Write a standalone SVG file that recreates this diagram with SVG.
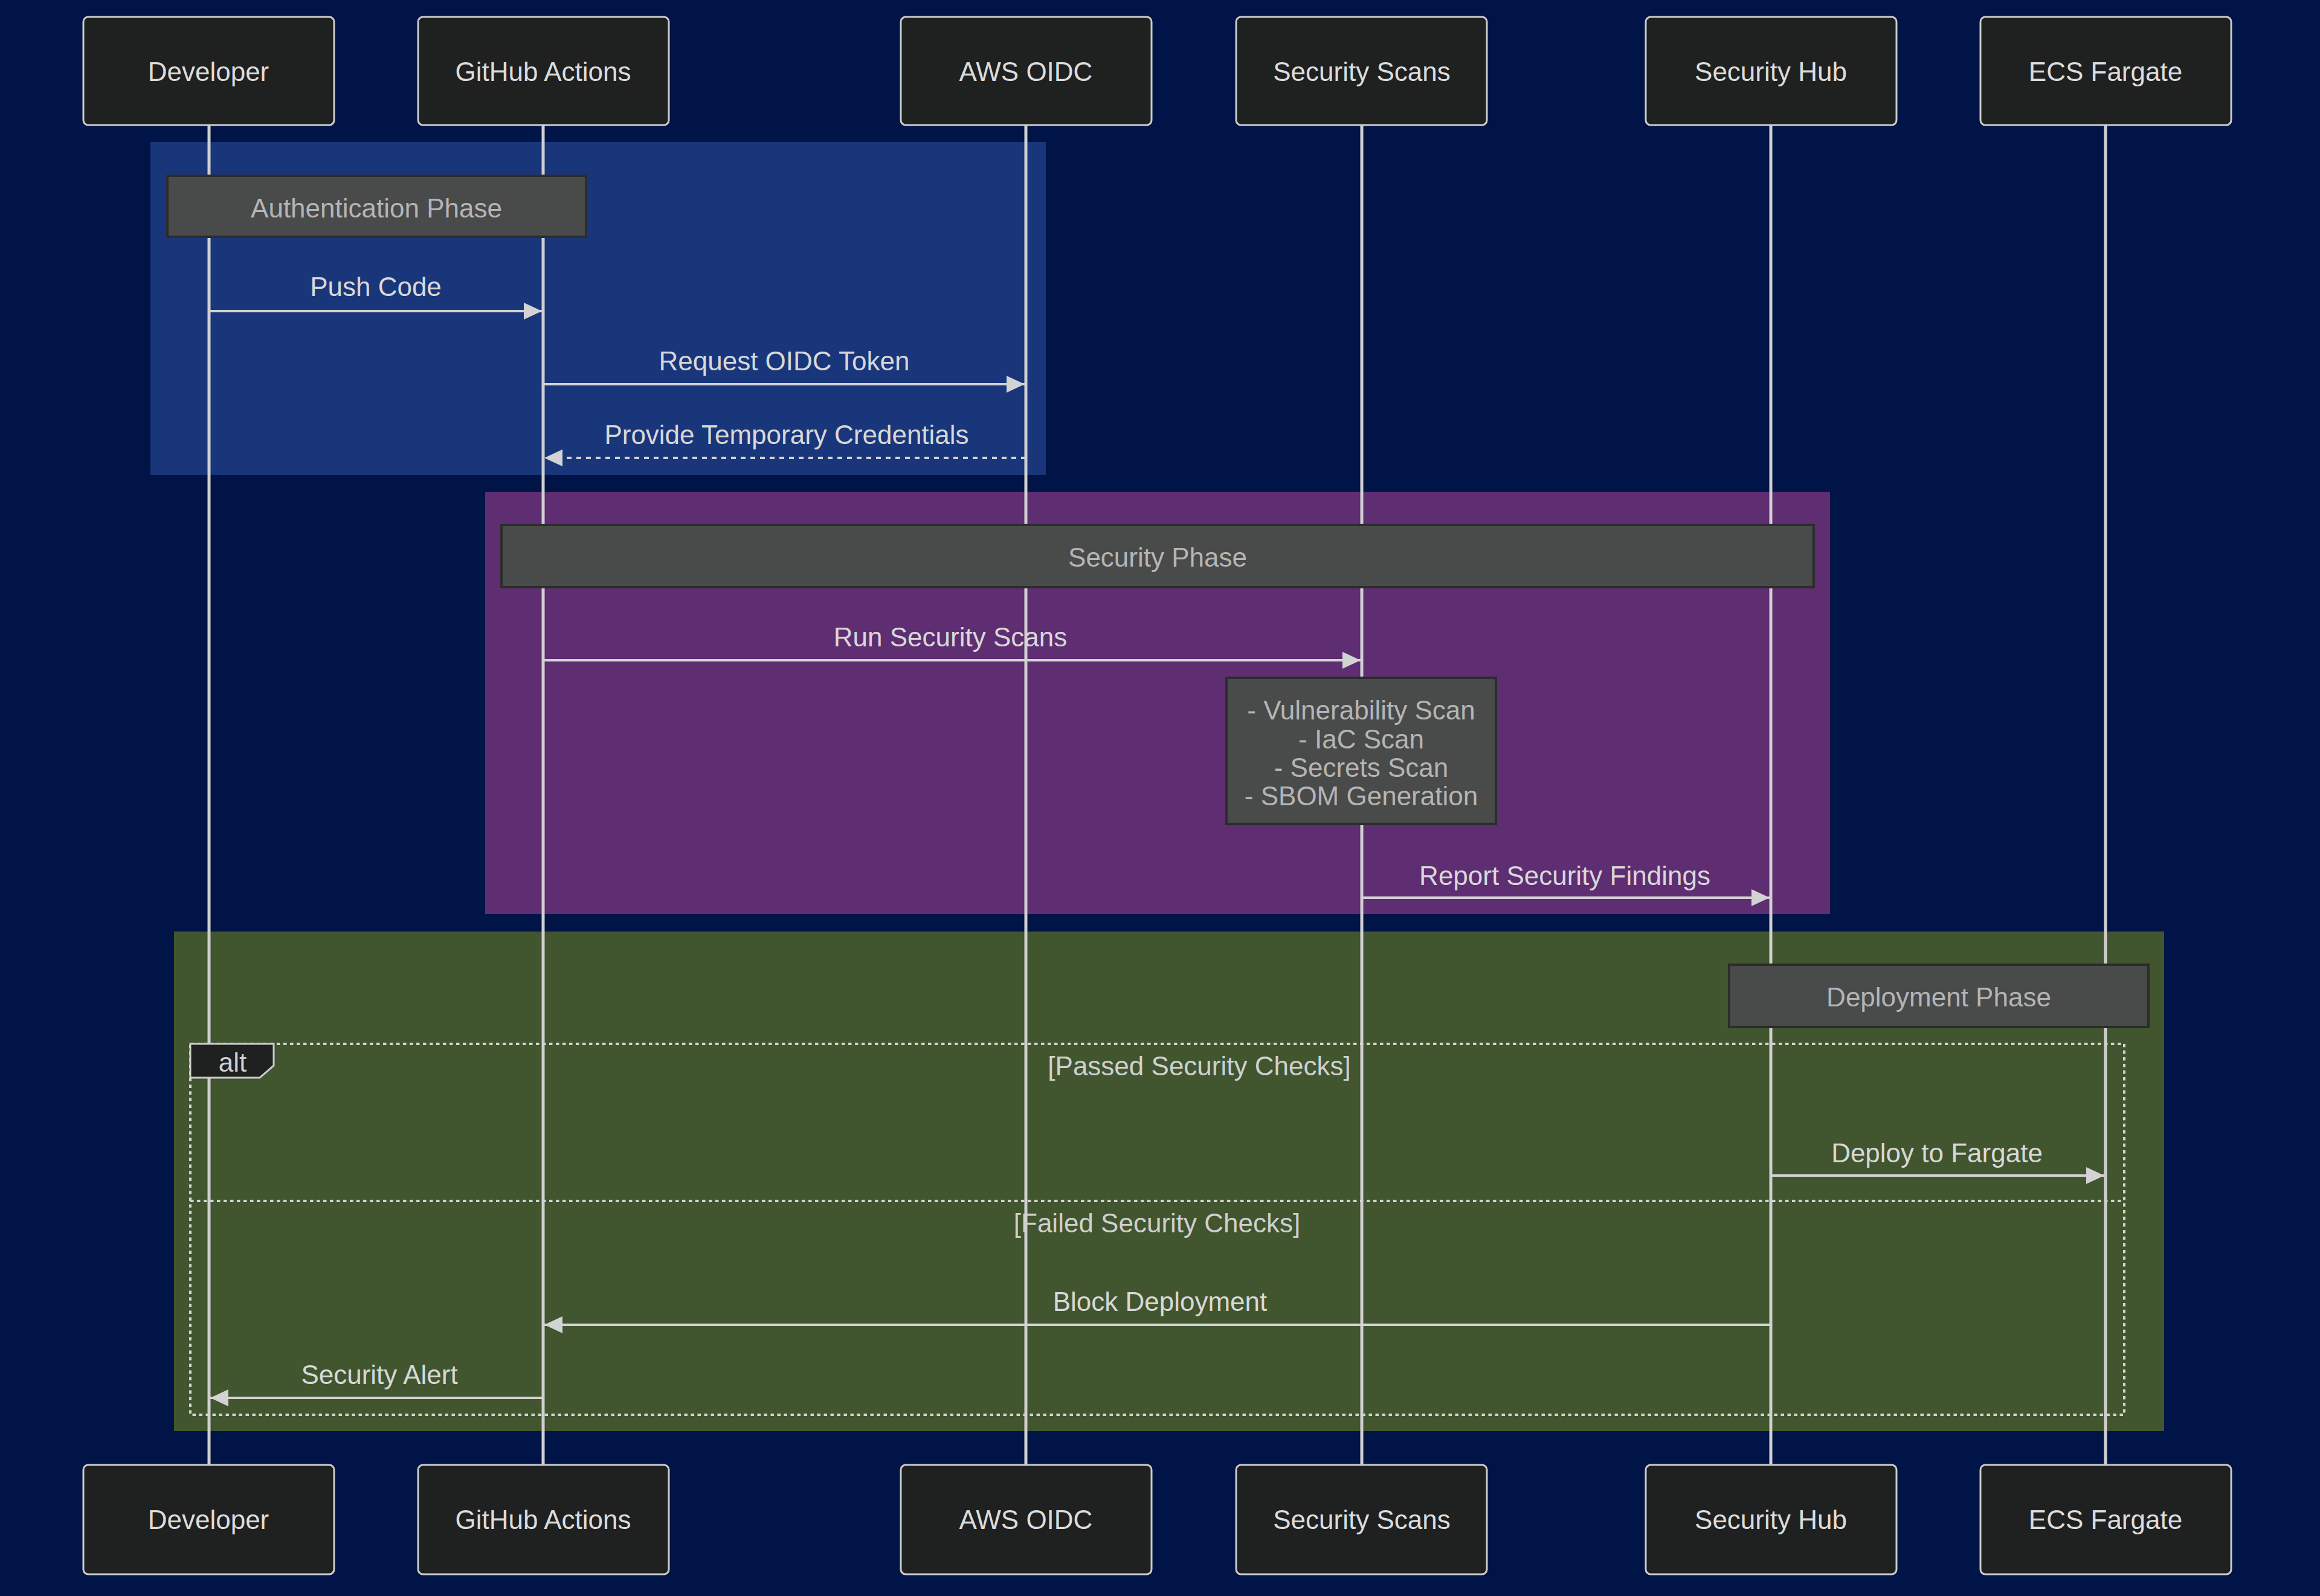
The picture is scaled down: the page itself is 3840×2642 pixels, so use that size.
<svg xmlns="http://www.w3.org/2000/svg" width="3840" height="2642" viewBox="0 0 3840 2642">
<defs>
<style>
.t{font-family:"Liberation Sans",Arial,sans-serif;font-size:44px;text-anchor:middle;dominant-baseline:central}
.actor rect{fill:#1f2020;stroke:#cccccc;stroke-width:3}
.actor text{fill:#dcdcdc}
.life{stroke:#d0d0d0;stroke-width:5}
.msg{stroke:#d3d3d3;stroke-width:4;fill:none}
.dash{stroke-dasharray:8,8}
.mt{fill:#d8d8d8}
.note rect{fill:#494a4a;stroke:#2c2c2c;stroke-width:4}
.note text{fill:#b5b5b5}
.alt{fill:none;stroke:#d3d3d3;stroke-width:4;stroke-dasharray:5.5,5.5}
.lbl{fill:#d0d0d0}
</style>
<marker id="ah" viewBox="0 0 30 28" refX="30" refY="14" markerWidth="30" markerHeight="28" markerUnits="userSpaceOnUse" orient="auto">
<path d="M0,0 L30,14 L0,28 Z" fill="#d3d3d3"/>
</marker>
</defs>
<rect x="0" y="0" width="3840" height="2642" fill="#001447"/>
<g id="phases">
<rect x="249" y="235" width="1482" height="551" fill="#1a367b"/>
<rect x="803" y="814" width="2226" height="699" fill="#5e2d72"/>
<rect x="288" y="1542" width="3294" height="827" fill="#41552e"/>
</g>
<g id="lifelines">
<line class="life" x1="346" y1="207" x2="346" y2="2424"/>
<line class="life" x1="899" y1="207" x2="899" y2="2424"/>
<line class="life" x1="1698" y1="207" x2="1698" y2="2424"/>
<line class="life" x1="2254" y1="207" x2="2254" y2="2424"/>
<line class="life" x1="2931" y1="207" x2="2931" y2="2424"/>
<line class="life" x1="3485" y1="207" x2="3485" y2="2424"/>
</g>
<g id="actor-developer" class="actor">
<rect x="138" y="28" width="415" height="179" rx="8"/><text class="t" x="345" y="118">Developer</text>
<rect x="138" y="2425" width="415" height="181" rx="8"/><text class="t" x="345" y="2515">Developer</text>
</g>
<g id="actor-github" class="actor">
<rect x="692" y="28" width="415" height="179" rx="8"/><text class="t" x="899" y="118">GitHub Actions</text>
<rect x="692" y="2425" width="415" height="181" rx="8"/><text class="t" x="899" y="2515">GitHub Actions</text>
</g>
<g id="actor-oidc" class="actor">
<rect x="1491" y="28" width="415" height="179" rx="8"/><text class="t" x="1698" y="118">AWS OIDC</text>
<rect x="1491" y="2425" width="415" height="181" rx="8"/><text class="t" x="1698" y="2515">AWS OIDC</text>
</g>
<g id="actor-scans" class="actor">
<rect x="2046" y="28" width="415" height="179" rx="8"/><text class="t" x="2254" y="118">Security Scans</text>
<rect x="2046" y="2425" width="415" height="181" rx="8"/><text class="t" x="2254" y="2515">Security Scans</text>
</g>
<g id="actor-hub" class="actor">
<rect x="2724" y="28" width="415" height="179" rx="8"/><text class="t" x="2931" y="118">Security Hub</text>
<rect x="2724" y="2425" width="415" height="181" rx="8"/><text class="t" x="2931" y="2515">Security Hub</text>
</g>
<g id="actor-ecs" class="actor">
<rect x="3278" y="28" width="415" height="179" rx="8"/><text class="t" x="3485" y="118">ECS Fargate</text>
<rect x="3278" y="2425" width="415" height="181" rx="8"/><text class="t" x="3485" y="2515">ECS Fargate</text>
</g>
<g id="note-auth" class="note">
<rect x="277" y="291" width="693" height="101"/><text class="t" x="623" y="344">Authentication Phase</text>
</g>
<g id="note-security" class="note">
<rect x="830" y="869" width="2172" height="103"/><text class="t" x="1916" y="922">Security Phase</text>
</g>
<g id="note-scans" class="note">
<rect x="2030" y="1122" width="446" height="242"/>
<text class="t" x="2253" y="1175">- Vulnerability Scan</text>
<text class="t" x="2253" y="1223">- IaC Scan</text>
<text class="t" x="2253" y="1270">- Secrets Scan</text>
<text class="t" x="2253" y="1317">- SBOM Generation</text>
</g>
<g id="note-deploy" class="note">
<rect x="2862" y="1597" width="694" height="103"/><text class="t" x="3209" y="1650">Deployment Phase</text>
</g>
<g id="alt-block">
<rect class="alt" x="315" y="1728" width="3201" height="614"/>
<line class="alt" x1="315" y1="1988" x2="3516" y2="1988"/>
<polygon points="315,1728 453,1728 453,1764 430,1784 315,1784" fill="#1f2020" stroke="#cccccc" stroke-width="3"/>
<text class="t lbl" x="385" y="1758">alt</text>
<text class="t lbl" x="1985" y="1764">[Passed Security Checks]</text>
<text class="t lbl" x="1915" y="2024">[Failed Security Checks]</text>
</g>
<g id="connectors">
<line class="msg" x1="346" y1="515" x2="897" y2="515" marker-end="url(#ah)"/>
<text class="t mt" x="622" y="474">Push Code</text>
<line class="msg" x1="899" y1="636" x2="1696" y2="636" marker-end="url(#ah)"/>
<text class="t mt" x="1298" y="597">Request OIDC Token</text>
<line class="msg dash" x1="1698" y1="758" x2="901" y2="758" marker-end="url(#ah)"/>
<text class="t mt" x="1302" y="719">Provide Temporary Credentials</text>
<line class="msg" x1="899" y1="1093" x2="2252" y2="1093" marker-end="url(#ah)"/>
<text class="t mt" x="1573" y="1054">Run Security Scans</text>
<line class="msg" x1="2254" y1="1486" x2="2929" y2="1486" marker-end="url(#ah)"/>
<text class="t mt" x="2590" y="1449">Report Security Findings</text>
<line class="msg" x1="2931" y1="1946" x2="3483" y2="1946" marker-end="url(#ah)"/>
<text class="t mt" x="3206" y="1908">Deploy to Fargate</text>
<line class="msg" x1="2931" y1="2193" x2="901" y2="2193" marker-end="url(#ah)"/>
<text class="t mt" x="1920" y="2154">Block Deployment</text>
<line class="msg" x1="899" y1="2314" x2="348" y2="2314" marker-end="url(#ah)"/>
<text class="t mt" x="628" y="2275">Security Alert</text>
</g>
</svg>
